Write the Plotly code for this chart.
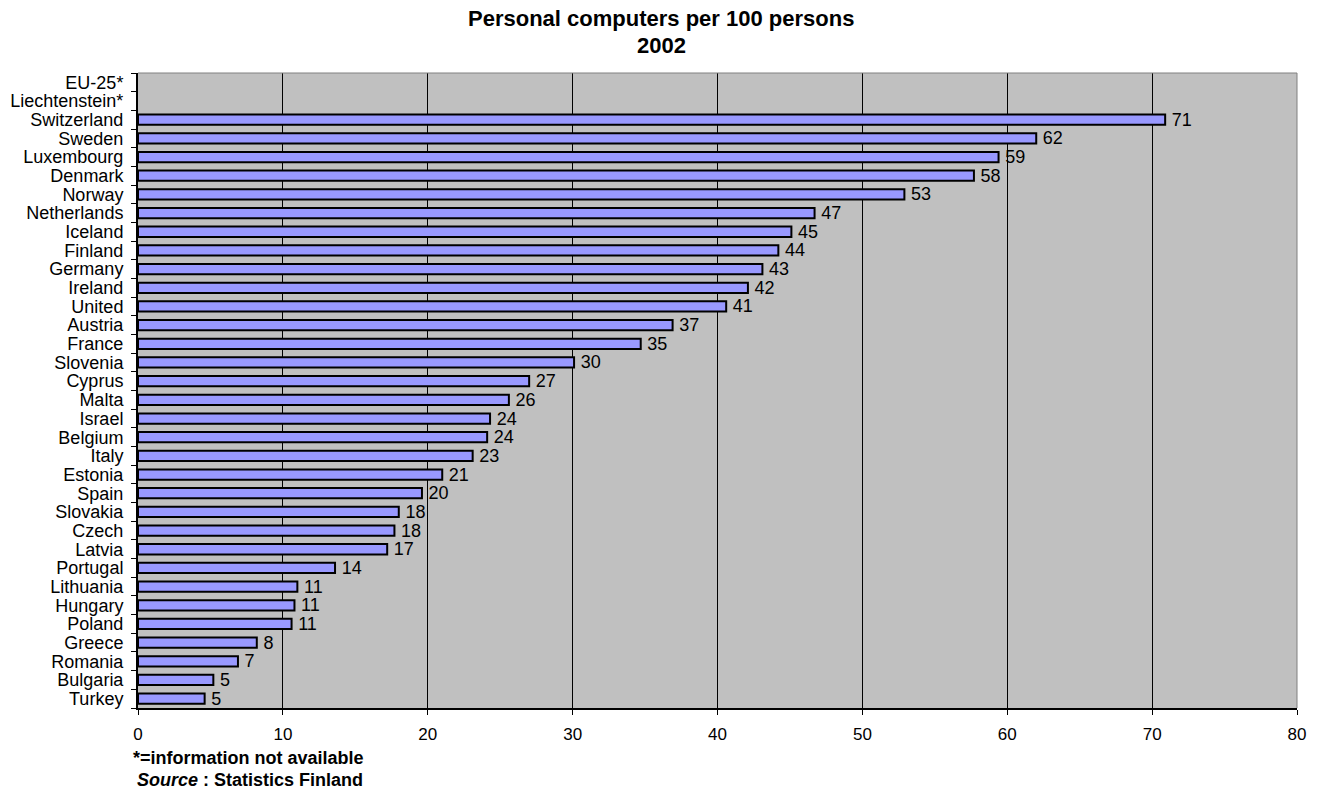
import plotly.graph_objects as go

# Personal computers per 100 persons, 2002 (top to bottom as listed)
countries = [
    "EU-25*", "Liechtenstein*", "Switzerland", "Sweden", "Luxembourg", "Denmark",
    "Norway", "Netherlands", "Iceland", "Finland", "Germany", "Ireland", "United",
    "Austria", "France", "Slovenia", "Cyprus", "Malta", "Israel", "Belgium", "Italy",
    "Estonia", "Spain", "Slovakia", "Czech", "Latvia", "Portugal", "Lithuania",
    "Hungary", "Poland", "Greece", "Romania", "Bulgaria", "Turkey",
]
pcs_per_100 = [
    None, None, 70.9, 62.0, 59.4, 57.7,
    52.9, 46.7, 45.1, 44.2, 43.1, 42.1, 40.6,
    36.9, 34.7, 30.1, 27.0, 25.6, 24.3, 24.1, 23.1,
    21.0, 19.6, 18.0, 17.7, 17.2, 13.6, 11.0,
    10.8, 10.6, 8.2, 6.9, 5.2, 4.6,
]
x_ticks = [0, 10, 20, 30, 40, 50, 60, 70, 80]

FONT = "Liberation Sans, Arial, sans-serif"
FS = 18

fig = go.Figure(
    go.Bar(
        x=pcs_per_100,
        y=countries,
        orientation="h",
        width=0.55,
        marker=dict(color="#9999FF", line=dict(color="#000000", width=2)),
        texttemplate="\u2009%{x:.0f}",
        textposition="outside",
        textfont=dict(family=FONT, size=FS, color="#000000"),
        constraintext="none",
        cliponaxis=False,
        hoverinfo="skip",
    )
)

fig.update_layout(
    width=1322,
    height=791,
    margin=dict(l=138, r=25, t=73, b=83),
    paper_bgcolor="#FFFFFF",
    plot_bgcolor="#C0C0C0",
    showlegend=False,
    font=dict(family=FONT, size=FS, color="#000000"),
    xaxis=dict(
        range=[0, 80],
        tickvals=x_ticks,
        ticktext=[str(v) for v in x_ticks],
        showgrid=True,
        gridcolor="#000000",
        gridwidth=1,
        zeroline=False,
        showline=True,
        linecolor="#000000",
        linewidth=2,
        ticks="outside",
        ticklen=5,
        tickcolor="#000000",
        ticklabelstandoff=5,
        tickfont=dict(size=17),
        automargin=False,
        fixedrange=True,
    ),
    yaxis=dict(
        type="category",
        categoryorder="array",
        categoryarray=countries,
        tickmode="array",
        tickvals=countries,
        ticktext=countries,
        autorange="reversed",
        showgrid=False,
        zeroline=False,
        showline=True,
        linecolor="#000000",
        linewidth=2,
        ticks="outside",
        tickson="boundaries",
        ticklen=5,
        tickcolor="#000000",
        ticklabelstandoff=9,
        automargin=False,
        fixedrange=True,
    ),
    shapes=[
        dict(type="line", xref="paper", yref="paper", x0=1, x1=1, y0=0, y1=1,
             line=dict(color="#808080", width=1)),
        dict(type="line", xref="paper", yref="paper", x0=0, x1=1, y0=1, y1=1,
             line=dict(color="#808080", width=1)),
    ],
    annotations=[
        dict(text="<b>Personal computers per 100 persons</b>", xref="paper", yref="paper",
             x=0.4513, y=1, xanchor="center", yanchor="middle", yshift=55,
             showarrow=False, font=dict(family=FONT, size=22, color="#000000")),
        dict(text="<b>2002</b>", xref="paper", yref="paper",
             x=0.4513, y=1, xanchor="center", yanchor="middle", yshift=28,
             showarrow=False, font=dict(family=FONT, size=22, color="#000000")),
        dict(text="<b>*=information not available</b>", xref="paper", yref="paper",
             x=0, y=0, xanchor="left", yanchor="middle", xshift=-7, yshift=-50,
             showarrow=False, font=dict(family=FONT, size=18, color="#000000")),
        dict(text="<b><i>Source</i> : Statistics Finland</b>", xref="paper", yref="paper",
             x=0, y=0, xanchor="left", yanchor="middle", xshift=-3, yshift=-72,
             showarrow=False, font=dict(family=FONT, size=18, color="#000000")),
    ],
)

fig.write_html("out.html")
